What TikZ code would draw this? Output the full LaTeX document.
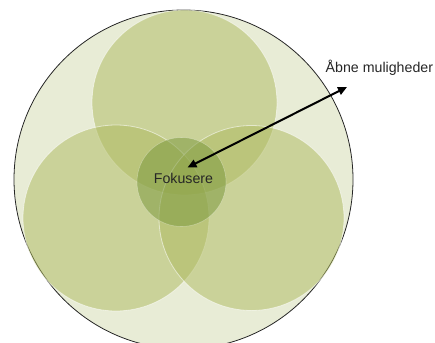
\documentclass[tikz,border=0pt]{standalone}
\usepackage{fontspec}
\setmainfont{Liberation Sans}
\usetikzlibrary{arrows.meta}
\definecolor{bgfill}{HTML}{E8ECD6}
\definecolor{leaf}{HTML}{AEBA5E}
\definecolor{core}{HTML}{7E9A40}
\tikzset{
  petal/.style={circle, fill=leaf, fill opacity=0.5, draw=white, draw opacity=0.55, line width=0.8pt, minimum size=#1, inner sep=0pt},
  lbl/.style={font=\fontsize{14.2}{16}\selectfont, text=black!85, inner sep=0pt},
}
\begin{document}
\begin{tikzpicture}[x=1pt,y=-1pt]
\useasboundingbox (0,0) rectangle (435,342);
\node[circle, fill=bgfill, draw=black!85, line width=0.8pt, minimum size=339pt, inner sep=0pt] (outer) at (183.5,179.5) {};
\node[petal=185pt] (top) at (184.5,102.5) {};
\node[petal=186pt] (left) at (116,218) {};
\node[petal=185pt] (right) at (251.5,218) {};
\node[circle, fill=core, fill opacity=0.55, draw=white, draw opacity=0.3, line width=0.6pt, minimum size=89pt, inner sep=0pt] (core) at (181.5,182) {};
\node[lbl, anchor=base] (fok) at (183.5,183) {Fokusere};
\node[lbl, anchor=base west] (open) at (325.5,73) {Åbne muligheder};
\coordinate (tip1) at (187.5,167.5);
\coordinate (tip2) at (347,87);
\draw[line width=2pt, {Triangle[length=9pt,width=8pt]}-{Triangle[length=9pt,width=8pt]}] (tip1) -- (tip2);
\end{tikzpicture}
\end{document}
